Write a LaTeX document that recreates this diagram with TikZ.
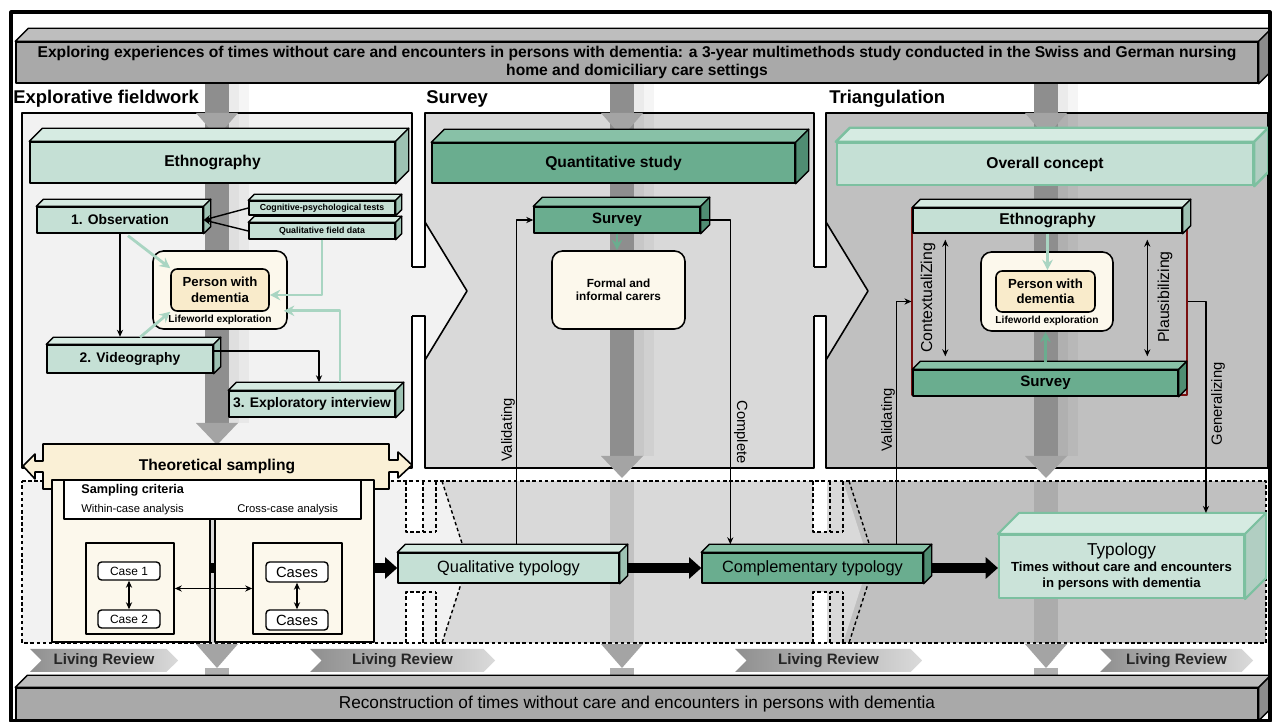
\documentclass[tikz,border=0pt]{standalone}
\usepackage{fontspec}
\setmainfont{Liberation Sans}
\usetikzlibrary{arrows.meta,positioning,calc,shapes.symbols}

\definecolor{lgreen}{HTML}{C5E0D5}
\definecolor{lgreentop}{HTML}{D6EBE2}
\definecolor{lgreenside}{HTML}{9DC2B3}
\definecolor{lgreenline}{HTML}{A9D5C2}
\definecolor{mgreen}{HTML}{6AAD8F}
\definecolor{mgreentop}{HTML}{88C1A7}
\definecolor{mgreenside}{HTML}{4F8D72}
\definecolor{conceptgreen}{HTML}{7CC0A0}
\definecolor{bannergray}{HTML}{A9A9A9}
\definecolor{bannertop}{HTML}{BEBEBE}
\definecolor{bannerside}{HTML}{8C8C8C}
\definecolor{paneli}{HTML}{F2F2F2}
\definecolor{panelii}{HTML}{D9D9D9}
\definecolor{paneliii}{HTML}{C0C0C0}
\definecolor{creamout}{HTML}{FCF8EC}
\definecolor{creamin}{HTML}{F9EBCB}
\definecolor{creamband}{HTML}{FAF0D6}
\definecolor{frameRed}{HTML}{7A1010}
\definecolor{colgray}{HTML}{8E8E8E}
\definecolor{reviewdark}{HTML}{8F8F8F}
\definecolor{reviewlight}{HTML}{DADADA}

% top and side face of a 3D box: [options]{node}{depth}{top colour}{side colour}
\newcommand{\boxfaces}[5][]{%
  \filldraw[facestyle, fill=#4, #1] (#2.north west) -- ++(#3,-#3)
    -- ($(#2.north east)+(#3,-#3)$) -- (#2.north east) -- cycle;
  \filldraw[facestyle, fill=#5, #1] (#2.north east) -- ++(#3,-#3)
    -- ($(#2.south east)+(#3,-#3)$) -- (#2.south east) -- cycle;
}

\begin{document}
\begin{tikzpicture}[x=0.02cm, y=-0.02cm, line join=round,
  spanbox/.style n args={4}{at={({(#1+#3)/2},{(#2+#4)/2})},
    minimum width={(#3-#1)*0.02cm}, minimum height={(#4-#2)*0.02cm}},
  cubebox/.style={draw=black, line width=0.8pt, inner sep=0pt, font=\bfseries\fontsize{7.9}{9}\selectfont},
  bigcube/.style={cubebox, font=\bfseries\fontsize{8.9}{10}\selectfont},
  facestyle/.style={draw=black, line width=0.8pt},
  lifebox/.style={draw=black, line width=0.9pt, fill=creamout, rounded corners=6pt, inner sep=0pt},
  personbox/.style={draw=black, line width=0.9pt, fill=creamin, rounded corners=3.5pt, inner sep=0pt,
    align=center, font=\bfseries\fontsize{7.5}{8.8}\selectfont},
  lifelabel/.style={inner sep=0pt, font=\bfseries\fontsize{5.8}{6}\selectfont},
  heading/.style={inner sep=0pt, font=\bfseries\fontsize{10.5}{12}\selectfont},
  sidelabel/.style={inner sep=0pt, font=\fontsize{8.4}{9}\selectfont},
  thinarrow/.style={line width=0.8pt, -{Stealth[length=4pt,width=3.5pt]}},
  dualarrow/.style={line width=0.8pt, {Stealth[length=4pt,width=3.5pt]}-{Stealth[length=4pt,width=3.5pt]}},
  paleflow/.style={draw=lgreenline, line width=1.6pt, -{Stealth[length=6pt,width=6pt]}},
  deepflow/.style={draw=mgreen, line width=1.6pt, -{Stealth[length=6pt,width=6pt]}},
  fatflow/.style={line width=5.5pt, -{Triangle[length=7pt,width=12pt]}},
  casebox/.style={draw=black, line width=0.8pt, fill=white, rounded corners=2pt, inner sep=0pt},
  creampanel/.style={draw=black, line width=0.9pt, fill=creamout, inner sep=0pt},
  review/.style={signal, signal to=east, signal from=west, left color=reviewdark, right color=reviewlight,
    inner sep=0pt, font=\bfseries\fontsize{8.6}{10}\selectfont, text=black!85},
  dashline/.style={dash pattern=on 2pt off 1.5pt, line width=0.8pt}
]

  % ---- Canvas -----------------------------------------------
  \useasboundingbox (0,0) rectangle (1272,722);
  \fill[white] (0,0) rectangle (1272,722);

  % ---- Upper panels -----------------------------------------
  \filldraw[fill=paneliii, line width=0.9pt] (826,113) rectangle (1268,468);
  \filldraw[fill=panelii, line width=0.9pt] (425,113) rectangle (814,468);
  \filldraw[fill=paneli, line width=0.9pt] (22,113) rectangle (412,468);
  % arrow from explorative fieldwork into survey
  \fill[paneli] (411,267) rectangle (426,316);
  \filldraw[fill=paneli, line width=0.9pt] (425,222) -- (467,291) -- (425,360);
  \draw[line width=0.9pt] (412,267) -- (425,267) -- (425,222);
  \draw[line width=0.9pt] (412,316) -- (425,316) -- (425,360);
  % arrow from survey into triangulation
  \fill[panelii] (813,267) rectangle (827,316);
  \filldraw[fill=panelii, line width=0.9pt] (826,222) -- (868,291) -- (826,360);
  \draw[line width=0.9pt] (814,267) -- (826,267) -- (826,222);
  \draw[line width=0.9pt] (814,316) -- (826,316) -- (826,360);

  % ---- Lower panels (dashed) --------------------------------
  \fill[panelii] (423,481) rectangle (813,643);
  \fill[paneliii] (827,481) rectangle (1266,643);
  \fill[paneli] (22,481) -- (442,481) -- (468,562) -- (442,643) -- (22,643) -- cycle;
  \fill[panelii] (813,481) -- (843,481) -- (869,562) -- (843,643) -- (813,643) -- cycle;
  \fill[white] (406,481) rectangle (423,532);
  \fill[white] (406,592) rectangle (423,643);
  \fill[white] (813,481) rectangle (827,532);
  \fill[white] (813,592) rectangle (827,643);
  \draw[dashline] (22,481) -- (1266,481) -- (1266,643) -- (22,643) -- cycle;
  \foreach \nx in {406,813} {
    \draw[dashline] (\nx,481) -- (\nx,532) -- (\nx+30,532);
    \draw[dashline] (\nx,643) -- (\nx,592) -- (\nx+30,592);
    \draw[dashline] (\nx+17,481) -- (\nx+17,532);
    \draw[dashline] (\nx+17,643) -- (\nx+17,592);
    \draw[dashline] (\nx+30,481) -- (\nx+30,532);
    \draw[dashline] (\nx+30,643) -- (\nx+30,592);
    \draw[dashline] (\nx+36,481) -- (\nx+62,562) -- (\nx+36,643);
  }

  % ---- Shadow columns ---------------------------------------
  \foreach \cx/\hy in {217/423, 622/456, 1046/456} {
    \fill[colgray] (\cx-12,83) rectangle (\cx+12,\hy);
    \fill[black, opacity=.08] (\cx+12,83) rectangle (\cx+22,\hy);
    \fill[black, opacity=.04] (\cx+22,83) rectangle (\cx+32,\hy);
    \fill[colgray!80] (\cx-21,113) -- (\cx+21,113) -- (\cx,137) -- cycle;
    \fill[colgray!80] (\cx-21,\hy) -- (\cx+21,\hy) -- (\cx,\hy+22) -- cycle;
    \fill[black, opacity=.10] (\cx-12,481) rectangle (\cx+12,643);
    \fill[colgray!70] (\cx-12,668) rectangle (\cx+12,676);
    \fill[colgray!80] (\cx-21,644) -- (\cx+21,644) -- (\cx,668) -- cycle;
  }

  % ---- Title banner -----------------------------------------
  \node[cubebox, fill=bannergray, spanbox={16}{42}{1258}{83}, align=center,
    font=\bfseries\fontsize{8.9}{10.2}\selectfont] (title)
    {Exploring experiences of times without care and encounters in persons with dementia: a 3-year multimethods study conducted in the Swiss and German nursing\\home and domiciliary care settings};
  \boxfaces{title}{13}{bannertop}{bannerside}

  \node[heading, anchor=west] (hexp) at (13,99) {Explorative fieldwork};
  \node[heading, anchor=west] (hsur) at (426,99) {Survey};
  \node[heading, anchor=west] (htri) at (829,99) {Triangulation};

  % ---- Explorative fieldwork --------------------------------
  \node[bigcube, fill=lgreen, spanbox={30}{142}{395}{183}] (eth1) {Ethnography};
  \boxfaces{eth1}{13}{lgreentop}{lgreenside}

  \node[cubebox, fill=lgreen, spanbox={37}{207}{203}{233}] (obs) {1. Observation};
  \boxfaces{obs}{7}{lgreentop}{lgreenside}
  \node[cubebox, fill=lgreen, spanbox={249}{201}{395}{215}, font=\bfseries\fontsize{5}{6}\selectfont] (cog)
    {Cognitive-psychological tests};
  \boxfaces{cog}{6}{lgreentop}{lgreenside}
  \node[cubebox, fill=lgreen, spanbox={249}{223}{395}{239}, font=\bfseries\fontsize{5}{6}\selectfont] (qfd)
    {Qualitative field data};
  \boxfaces{qfd}{6}{lgreentop}{lgreenside}

  \node[lifebox, spanbox={153}{251}{287}{329}] (life1) {};
  \node[personbox, spanbox={171}{269}{269}{311}] (pwd1) {Person with\\dementia};
  \node[lifelabel] (lw1) at (220,320) {Lifeworld exploration};

  \node[cubebox, fill=lgreen, spanbox={47}{345}{213}{373}] (vid) {2. Videography};
  \boxfaces{vid}{7}{lgreentop}{lgreenside}
  \node[cubebox, fill=lgreen, spanbox={229}{391}{395}{417}] (int) {3. Exploratory interview};
  \boxfaces{int}{8}{lgreentop}{lgreenside}

  \draw[thinarrow] (cog.west) -- (obs.east);
  \draw[thinarrow] (qfd.west) -- (obs.east);
  \draw[thinarrow, shorten >=0.15cm] (obs.south) -- (obs.south |- vid.north);
  \draw[thinarrow, shorten >=0.16cm] ($(vid.east)+(0,-8)$) -| ($(int.north)+(7,0)$);
  \draw[paleflow] ($(obs.south)+(8,2)$) -- (pwd1.north west);
  \draw[paleflow] ($(vid.north)+(10,-7)$) -- (pwd1.south west);
  \draw[paleflow] (qfd.south) |- ($(pwd1.east)+(0,5)$);
  \draw[paleflow] ($(int.north)+(28,-8)$) |- ($(pwd1.south east)+(14,-1)$);

  % ---- Theoretical sampling ---------------------------------
  \filldraw[fill=creamband, line width=0.9pt] (43,444) -- (389,444) -- (389,460) -- (398,460)
    -- (398,452) -- (412,465) -- (398,478) -- (398,472) -- (389,472) -- (389,489) -- (43,489)
    -- (43,472) -- (35,472) -- (35,479) -- (23,466) -- (35,454) -- (35,461) -- (43,461) -- cycle;
  \node[font=\bfseries\fontsize{8.9}{10}\selectfont] (tsamp) at (217,466) {Theoretical sampling};
  \node[creampanel, spanbox={52}{480}{210}{642}] (tsl) {};
  \node[creampanel, spanbox={215}{480}{374}{642}] (tsr) {};
  \fill (210,563) rectangle (215,573);
  \node[draw=black, line width=0.9pt, fill=white, inner sep=0pt, spanbox={64}{480}{361}{519}] (crit) {};
  \node[anchor=west, inner sep=0pt, font=\bfseries\fontsize{7.2}{8}\selectfont] (critt) at (81,490) {Sampling criteria};
  \node[anchor=west, inner sep=0pt, font=\fontsize{6.4}{7}\selectfont] (within) at (81,510) {Within-case analysis};
  \node[anchor=west, inner sep=0pt, font=\fontsize{6.4}{7}\selectfont] (cross) at (237,510) {Cross-case analysis};

  \node[creampanel, spanbox={86}{543}{174}{634}] (inl) {};
  \node[creampanel, spanbox={253}{543}{342}{634}] (inr) {};
  \node[casebox, spanbox={98}{562}{160}{580}, font=\fontsize{6.8}{8}\selectfont] (case1) {Case 1};
  \node[casebox, spanbox={98}{610}{160}{628}, font=\fontsize{6.8}{8}\selectfont] (case2) {Case 2};
  \node[casebox, spanbox={266}{562}{328}{582}, font=\fontsize{8.4}{9}\selectfont] (casesa) {Cases};
  \node[casebox, spanbox={266}{610}{328}{630}, font=\fontsize{8.4}{9}\selectfont] (casesb) {Cases};
  \draw[dualarrow] (case1.south) -- (case2.north);
  \draw[dualarrow] (casesa.south) -- (casesb.north);
  \draw[dualarrow] (inl.east) -- (inr.west);

  % ---- Survey -----------------------------------------------
  \node[bigcube, fill=mgreen, spanbox={432}{143}{795}{183}] (quant) {Quantitative study};
  \boxfaces{quant}{13}{mgreentop}{mgreenside}
  \node[cubebox, fill=mgreen, spanbox={534}{207}{700}{233}, font=\bfseries\fontsize{8.5}{9}\selectfont] (surv2) {Survey};
  \boxfaces{surv2}{9}{mgreentop}{mgreenside}
  \node[lifebox, spanbox={552}{251}{685}{329}, align=center, font=\bfseries\fontsize{6.7}{7.4}\selectfont] (carers)
    {Formal and\\informal carers};
  \draw[deepflow] (surv2.south) -- (surv2.south |- carers.north);

  % ---- Triangulation ----------------------------------------
  \node[bigcube, fill=lgreen, draw=conceptgreen, line width=1.4pt, spanbox={837}{143}{1253}{185}] (concept) {Overall concept};
  \boxfaces[draw=conceptgreen, line width=1.4pt]{concept}{14}{lgreentop}{lgreenside!80!white}

  \node[draw=frameRed, line width=0.6pt, inner sep=0pt, spanbox={912}{208}{1187}{395}] (tri) {};
  \node[cubebox, fill=lgreen, spanbox={913}{208}{1182}{233}, font=\bfseries\fontsize{8.9}{10}\selectfont] (eth3) {Ethnography};
  \boxfaces{eth3}{8}{lgreentop}{lgreenside}
  \node[cubebox, fill=mgreen, spanbox={913}{370}{1178}{396}, font=\bfseries\fontsize{8.6}{10}\selectfont] (surv3) {Survey};
  \boxfaces{surv3}{8}{mgreentop}{mgreenside}

  \node[lifebox, spanbox={981}{252}{1113}{331}] (life3) {};
  \node[personbox, spanbox={996}{271}{1095}{312}] (pwd3) {Person with\\dementia};
  \node[lifelabel] (lw3) at (1047,321) {Lifeworld exploration};
  \draw[paleflow] (eth3.south) -- (eth3.south |- pwd3.north);
  \draw[deepflow] ($(surv3.north)+(0,-7)$) -- ($(surv3.north |- life3.south)$);

  \draw[dualarrow] ($(eth3.south west)+(33,6)$) -- ($(surv3.north west)+(33,-13)$);
  \draw[dualarrow] ($(eth3.south west)+(235,6)$) -- ($(surv3.north west)+(235,-13)$);
  \node[sidelabel, rotate=90, font=\fontsize{9}{10}\selectfont] (lctx) at (928,298) {ContextualiZing};
  \node[sidelabel, rotate=90, font=\fontsize{9}{10}\selectfont] (lpla) at (1165,297) {Plausibilizing};

  % ---- Typology row -----------------------------------------
  \node[cubebox, fill=lgreen, spanbox={398}{553}{619}{583}, font=\fontsize{9.3}{10}\selectfont] (qualtyp) {Qualitative typology};
  \boxfaces{qualtyp}{8}{lgreentop}{lgreenside}
  \node[cubebox, fill=mgreen, spanbox={702}{553}{923}{583}, font=\fontsize{9.3}{10}\selectfont] (comptyp) {Complementary typology};
  \boxfaces{comptyp}{8}{mgreentop}{mgreenside}
  \node[cubebox, fill=lgreen!90!white, draw=conceptgreen, line width=1.2pt, spanbox={999}{535}{1244}{598}, align=center,
    font=\bfseries\fontsize{7.5}{9}\selectfont] (typo)
    {{\mdseries\fontsize{9.8}{11}\selectfont Typology}\\Times without care and encounters\\in persons with dementia};
  \boxfaces[draw=conceptgreen, line width=1.2pt]{typo}{21}{lgreentop}{lgreenside!80!white}

  \draw[fatflow] (tsr.east |- qualtyp.west) -- (qualtyp.west);
  \draw[fatflow] ($(qualtyp.east)+(8,0)$) -- (comptyp.west);
  \draw[fatflow] ($(comptyp.east)+(8,0)$) -- (comptyp.east -| typo.west);

  % validating / complete / generalizing links
  \coordinate (valq) at ($(qualtyp.north west)+(119,-8)$);
  \coordinate (compc) at ($(comptyp.north west)+(29,-8)$);
  \coordinate (valc) at ($(comptyp.north west)+(195,-8)$);
  \coordinate (gent) at ($(typo.north west)+(208,-21)$);
  \draw[thinarrow] (valq) |- (surv2.west);
  \draw[thinarrow] (surv2.east) -| (compc);
  \draw[thinarrow] (valc) |- (tri.west);
  \draw[thinarrow] (tri.east) -| (gent);
  \node[sidelabel, rotate=90] (lval1) at (508,430) {Validating};
  \node[sidelabel, rotate=-90] (lcomp) at (741,432) {Complete};
  \node[sidelabel, rotate=90] (lval2) at (888,420) {Validating};
  \node[sidelabel, rotate=90] (lgen) at (1218,404) {Generalizing};

  % ---- Living review and reconstruction ---------------------
  \node[review, spanbox={30}{649}{178}{672}] (lr1) {Living Review};
  \node[review, spanbox={310}{649}{495}{672}] (lr2) {Living Review};
  \node[review, spanbox={735}{649}{922}{672}] (lr3) {Living Review};
  \node[review, spanbox={1100}{649}{1253}{672}] (lr4) {Living Review};

  \node[cubebox, fill=bannergray, spanbox={16}{688}{1258}{720}, font=\fontsize{9.8}{11}\selectfont] (recon)
    {Reconstruction of times without care and encounters in persons with dementia};
  \boxfaces{recon}{12}{bannertop}{bannerside}

  \draw[line width=1.8pt] (11,12) rectangle (1270,721);

\end{tikzpicture}
\end{document}
